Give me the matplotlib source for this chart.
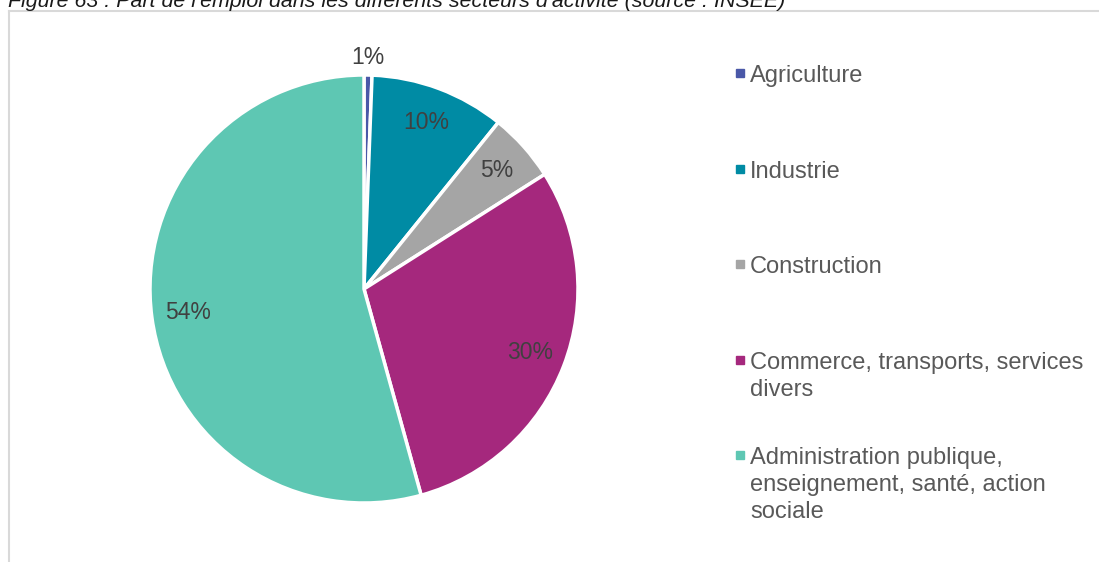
import numpy as np
import matplotlib
matplotlib.use('Agg')
from matplotlib import pyplot as plt
from matplotlib.lines import Line2D

plt.rcParams['font.family'] = ['Liberation Sans', 'DejaVu Sans']

sectors = ['Agriculture', 'Industrie', 'Construction',
           'Commerce, transports, services\ndivers',
           'Administration publique,\nenseignement, santé, action\nsociale']
shares = [0.6, 10.2, 5.2, 29.7, 54.3]
colors = ['#4A58A8', '#008BA4', '#A5A5A5', '#A5287D', '#5EC7B3']
title = "Figure 63 : Part de l'emploi dans les différents secteurs d'activité (source : INSEE)"

W, H = 1099, 562
fig = plt.figure(figsize=(W / 100, H / 100), dpi=100)

# frame lines of the chart area
fig.add_artist(Line2D([9 / W, 9 / W], [0, 1 - 11 / H], color='#D9D9D9', lw=1.5))
fig.add_artist(Line2D([9 / W, 1], [1 - 11 / H, 1 - 11 / H], color='#D9D9D9', lw=1.5))

fig.text(8 / W, 1 - 7 / H, title, fontsize=15.4, style='italic', color='#1a1a1a',
         va='baseline', ha='left')

# pie
cx, cy, r = 364, 289, 214
ax = fig.add_axes([(cx - r) / W, (H - cy - r) / H, 2 * r / W, 2 * r / H])
wedges, texts, autotexts = ax.pie(
    shares, colors=colors, startangle=90, counterclock=False,
    autopct='%1.0f%%', pctdistance=0.83,
    wedgeprops=dict(edgecolor='white', linewidth=2.5),
    textprops=dict(fontsize=16.5, color='#404040'))
ax.set_xlim(-1, 1)
ax.set_ylim(-1, 1)
ax.set_aspect('equal')
ax.axis('off')

# tiny slice: label outside
w0 = wedges[0]
mid = np.deg2rad((w0.theta1 + w0.theta2) / 2)
autotexts[0].set_position((1.08 * np.cos(mid), 1.08 * np.sin(mid)))

# legend: one entry every 95.5 px, extra lines 27 px apart
for i, (lab, col) in enumerate(zip(sectors, colors)):
    yb = 82 + i * 95.5
    for j, line in enumerate(lab.split('\n')):
        fig.text(750 / W, 1 - (yb + 27 * j) / H, line, fontsize=17, color='#595959',
                 va='baseline', ha='left')
    fig.add_artist(Line2D([740 / W], [1 - (yb - 9) / H], marker='s', markersize=5.5,
                          color=col, lw=0))

fig.savefig('out.png', dpi=100)
